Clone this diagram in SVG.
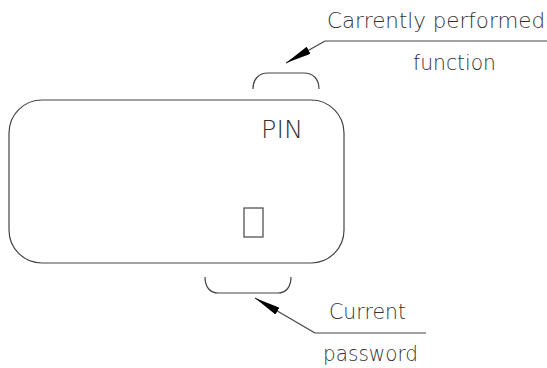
<svg xmlns="http://www.w3.org/2000/svg" width="547" height="368" viewBox="0 0 547 368">
<defs>
<style>
.ln{fill:none;stroke:#444;stroke-width:1.2}
.tx{font-family:"DejaVu Sans","Liberation Sans",sans-serif;font-weight:200;fill:#333;font-size:20.5px}
</style>
<marker id="ah" markerUnits="userSpaceOnUse" viewBox="0 0 26 8" refX="26" refY="4" markerWidth="26" markerHeight="8" orient="auto">
<path d="M0,0 L26,4 L0,8 z" fill="#000"/>
</marker>
</defs>
<rect width="547" height="368" fill="#fff"/>
<g id="device">
<rect class="ln" x="9" y="100" width="335" height="163" rx="33" ry="33"/>
<text class="tx" x="261" y="138" style="font-size:24.5px" textLength="42" lengthAdjust="spacingAndGlyphs">PIN</text>
</g>
<g id="password-field">
<rect class="ln" x="244" y="208" width="19" height="29"/>
</g>
<g id="function-bracket">
<path class="ln" d="M253,89 C253,79 259,73 268,73 L304,73 C313,73 319,79 319,89"/>
</g>
<g id="password-bracket">
<path class="ln" d="M205,277 C205,287 210,293 218,293 L278,293 C286,293 291,287 291,277"/>
</g>
<g id="label-function">
<text class="tx" x="327" y="28" textLength="218" lengthAdjust="spacingAndGlyphs">Carrently performed</text>
<text class="tx" x="413" y="70" textLength="83" lengthAdjust="spacingAndGlyphs">function</text>
</g>
<g id="label-password">
<text class="tx" x="329" y="319" textLength="77" lengthAdjust="spacingAndGlyphs">Current</text>
<text class="tx" x="323" y="361" textLength="95" lengthAdjust="spacingAndGlyphs">password</text>
</g>
<g id="connectors">
<line class="ln" x1="547" y1="41" x2="325" y2="41"/>
<line class="ln" x1="325" y1="41" x2="286" y2="63" marker-end="url(#ah)"/>
<line class="ln" x1="426" y1="333" x2="315" y2="333"/>
<line class="ln" x1="315" y1="333" x2="255" y2="298" marker-end="url(#ah)"/>
</g>
</svg>
